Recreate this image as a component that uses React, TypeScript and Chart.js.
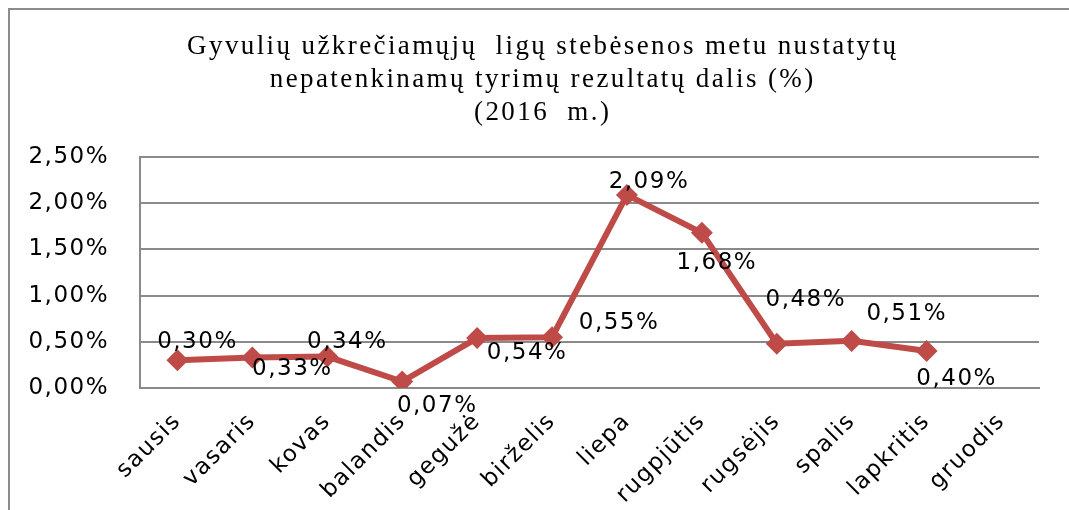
import React, { useEffect, useRef } from "react";
import { Chart, registerables } from "chart.js";

Chart.register(...registerables);

const titleLines = [
  "Gyvulių užkrečiamųjų  ligų stebėsenos metu nustatytų",
  "nepatenkinamų tyrimų rezultatų dalis (%)",
  "(2016  m.)",
];

const months = [
  "sausis",
  "vasaris",
  "kovas",
  "balandis",
  "gegužė",
  "birželis",
  "liepa",
  "rugpjūtis",
  "rugsėjis",
  "spalis",
  "lapkritis",
  "gruodis",
];

// percent values
const shares: (number | null)[] = [0.3, 0.33, 0.34, 0.07, 0.54, 0.55, 2.09, 1.68, 0.48, 0.51, 0.4, null];

// data label placement relative to the point (dx, dy in px), as in the reference
const labelOffsets: [number, number][] = [
  [20, -18],
  [40, 12],
  [20, -15],
  [35, 24],
  [50, 15],
  [67, -14],
  [22, -13],
  [15, 30],
  [29, -44],
  [55, -27],
  [30, 28],
  [0, 0],
];

const yTicks = [0, 0.5, 1, 1.5, 2, 2.5];

const fmt = (v: number) => v.toFixed(2).replace(".", ",") + "%";

const LINE = "#BE4B48";
const GRID = "#8a8a8a";
const SANS = "'DejaVu Sans', sans-serif";
const SERIF = "'Liberation Serif', serif";
const SANS_SPACING = "1.5px";

if (typeof document !== "undefined") {
  document.body.style.margin = "8px 0 0 8px";
  document.body.style.overflow = "hidden";
}

const spacingPlugin = {
  id: "sansSpacing",
  beforeDraw(chart: any) {
    try {
      chart.ctx.letterSpacing = SANS_SPACING;
    } catch (e) {}
  },
  afterDraw(chart: any) {
    try {
      chart.ctx.letterSpacing = "0px";
    } catch (e) {}
  },
};

const labelPlugin = {
  id: "pointLabels",
  afterDatasetsDraw(chart: any) {
    const meta = chart.getDatasetMeta(0);
    const ctx = chart.ctx;
    ctx.save();
    ctx.font = `23px ${SANS}`;
    try {
      ctx.letterSpacing = SANS_SPACING;
    } catch (e) {}
    ctx.fillStyle = "#000";
    ctx.textAlign = "center";
    ctx.textBaseline = "middle";
    meta.data.forEach((pt: any, i: number) => {
      const v = shares[i];
      if (v === null || v === undefined) return;
      const [dx, dy] = labelOffsets[i];
      ctx.fillText(fmt(v), pt.x + dx, pt.y + dy);
    });
    ctx.restore();
  },
};

const titlePlugin = {
  id: "spacedTitle",
  afterDraw(chart: any) {
    const ctx = chart.ctx;
    ctx.save();
    ctx.font = `27px ${SERIF}`;
    ctx.fillStyle = "#000";
    ctx.textAlign = "left";
    ctx.textBaseline = "middle";
    try {
      ctx.letterSpacing = "2.4px";
    } catch (e) {}
    const cx = chart.width / 2 + 2;
    titleLines.forEach((line, i) => {
      const w = ctx.measureText(line).width - 2.4;
      ctx.fillText(line, cx - w / 2, 37 + i * 33);
    });
    ctx.restore();
  },
};

export default function App() {
  const ref = useRef<HTMLCanvasElement | null>(null);

  useEffect(() => {
    if (!ref.current) return;
    const chart = new Chart(ref.current, {
      type: "line",
      data: {
        labels: months,
        datasets: [
          {
            data: shares,
            borderColor: LINE,
            backgroundColor: LINE,
            borderWidth: 6,
            pointStyle: "rectRot",
            pointRadius: 11,
            pointBackgroundColor: LINE,
            pointBorderWidth: 0,
            spanGaps: false,
            tension: 0,
          },
        ],
      },
      options: {
        animation: false,
        responsive: false,
        layout: { padding: { top: 147, right: 30, bottom: 0, left: 0 } },
        plugins: {
          legend: { display: false },
          tooltip: { enabled: false },
          title: { display: false },
        },
        scales: {
          x: {
            type: "category",
            offset: true,
            grid: { display: false, drawTicks: false },
            border: { display: true, color: GRID, width: 2 },
            ticks: {
              color: "#000",
              font: { family: SANS, size: 23 },
              minRotation: 45,
              maxRotation: 45,
              padding: 20,
              autoSkip: false,
            },
            afterFit: (s: any) => {
              s.height = 122;
            },
          },
          y: {
            min: 0,
            max: 2.5,
            afterBuildTicks: (s: any) => {
              s.ticks = yTicks.map((v) => ({ value: v }));
            },
            grid: { color: GRID, lineWidth: 2, drawTicks: false },
            border: { display: true, color: GRID, width: 2 },
            ticks: {
              color: "#000",
              font: { family: SANS, size: 23 },
              padding: 31,
              callback: (v: any) => fmt(Number(v)),
            },
            afterFit: (s: any) => {
              s.width = 130;
            },
          },
        },
      },
      plugins: [spacingPlugin, labelPlugin, titlePlugin],
    });
    return () => chart.destroy();
  }, []);

  return (
    <div
      style={{
        width: 1061,
        height: 502,
        borderTop: "2px solid #8c8c8c",
        borderLeft: "2px solid #8c8c8c",
        boxSizing: "border-box",
        overflow: "hidden",
        background: "#fff",
      }}
    >
      <canvas ref={ref} width={1059} height={500} style={{ display: "block" }} />
    </div>
  );
}
